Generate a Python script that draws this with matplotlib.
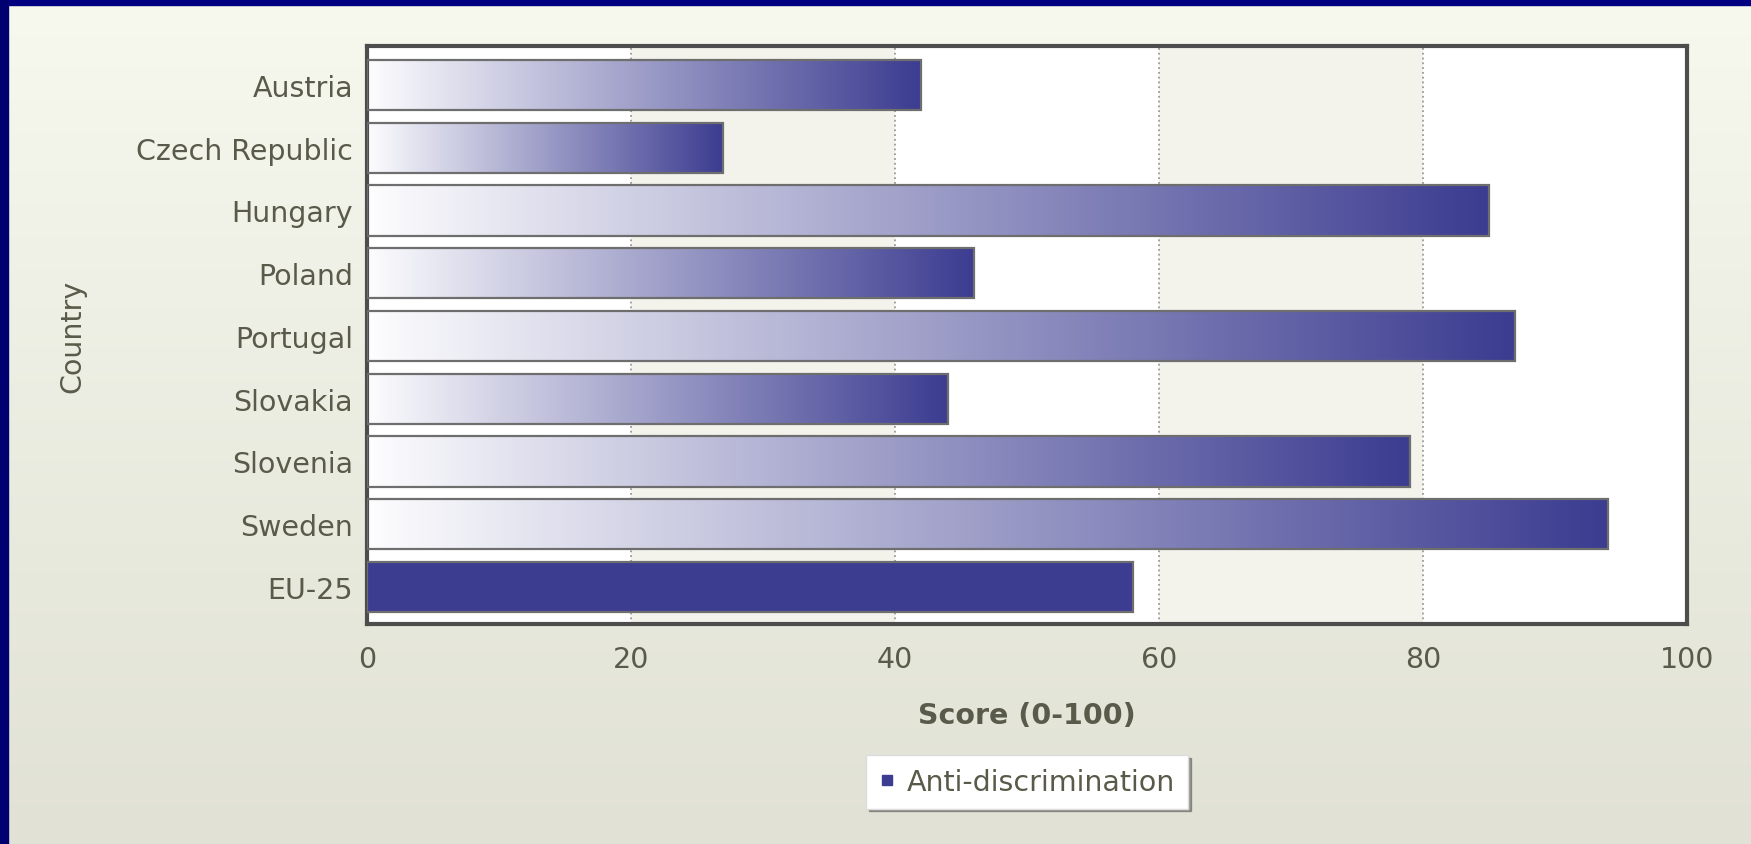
import matplotlib
matplotlib.use("Agg")
import matplotlib.pyplot as plt
import numpy as np
from matplotlib.colors import LinearSegmentedColormap
from matplotlib.lines import Line2D
from matplotlib.patches import Rectangle

countries = ['Austria', 'Czech Republic', 'Hungary', 'Poland', 'Portugal',
             'Slovakia', 'Slovenia', 'Sweden', 'EU-25']
scores = [42, 27, 85, 46, 87, 44, 79, 94, 58]
series_name = 'Anti-discrimination'
xticks = [0, 20, 40, 60, 80, 100]

W, H = 1751, 845
NAVY = '#3c3c91'
TXT = '#5a5a4a'
FS = 20.5

plt.rcParams['font.family'] = ['DejaVu Sans']

fig = plt.figure(figsize=(W/100, H/100), dpi=100)

# page background, light olive gradient
bg = fig.add_axes([0, 0, 1, 1], zorder=-5)
grad = np.linspace(0, 1, 256).reshape(-1, 1)
bgcmap = LinearSegmentedColormap.from_list('bg', ['#f7f8ee', '#e1e2d5'])
bg.imshow(grad, aspect='auto', cmap=bgcmap, extent=[0, 1, 0, 1])
bg.axis('off')

# navy frame strips (top and left)
fig.patches.append(Rectangle((0, 1 - 6/H), 1, 6/H, transform=fig.transFigure,
                             color='#000080', zorder=10))
fig.patches.append(Rectangle((0, 0), 8/W, 1, transform=fig.transFigure,
                             color='#000070', zorder=10))

ax = fig.add_axes([367/W, 1 - 625/H, (1687-367)/W, (625-47)/H])
ax.set_facecolor('white')

# alternating bands
for i in range(len(xticks) - 1):
    if i % 2 == 1:
        ax.axvspan(xticks[i], xticks[i+1], color='#f3f3ec', zorder=0, lw=0)

ypos = np.arange(len(countries))
bars = ax.barh(ypos, scores, height=0.8, color='none',
               edgecolor='#6e6e6e', linewidth=1.6, zorder=3)

barcmap = LinearSegmentedColormap.from_list('bar', ['#fdfdfe', NAVY])
g = np.linspace(0, 1, 256).reshape(1, -1)
for i, b in enumerate(bars):
    x0, y0, w, h = b.get_x(), b.get_y(), b.get_width(), b.get_height()
    if countries[i] == 'EU-25':
        b.set_facecolor(NAVY)
        continue
    im = ax.imshow(g, cmap=barcmap, aspect='auto', extent=[x0, x0 + w, y0 + h, y0],
                   zorder=2, interpolation='bilinear')
    im.set_clip_path(b)

ax.set_xlim(0, 100)
ax.set_ylim(len(countries) - 1 + 0.59, -0.62)

ax.set_xticks(xticks)
ax.set_xticklabels([str(t) for t in xticks])
ax.set_yticks(ypos)
ax.set_yticklabels(countries)
ax.tick_params(axis='y', length=0, pad=10, labelsize=FS, labelcolor=TXT)
ax.tick_params(axis='x', length=0, pad=15, labelsize=FS, labelcolor=TXT)

ax.xaxis.grid(True, linestyle=':', color='#9a9a9a', linewidth=1.3)
ax.set_axisbelow(True)

for s in ax.spines.values():
    s.set_color('#4d4d4d')
    s.set_linewidth(3)

ax.set_xlabel('Score (0-100)', fontsize=FS, fontweight='bold', color=TXT, va='center')
ax.xaxis.set_label_coords(0.5, -0.157)
ax.set_ylabel('Country', fontsize=FS, color=TXT, va='center', ha='center')
ax.yaxis.set_label_coords(-0.223, 0.5)

handle = Line2D([], [], marker='s', linestyle='', color=NAVY, markersize=6.5)
leg = ax.legend([handle], [series_name], loc='center', bbox_to_anchor=(0.5, -0.273),
                fontsize=FS, frameon=True, fancybox=False, shadow=True,
                handlelength=0.6, handletextpad=0.4, borderpad=0.45,
                borderaxespad=0)
leg.get_frame().set_edgecolor('#dcdcdc')
leg.get_frame().set_linewidth(1)
for t in leg.get_texts():
    t.set_color(TXT)

fig.savefig('out.png', dpi=100)
